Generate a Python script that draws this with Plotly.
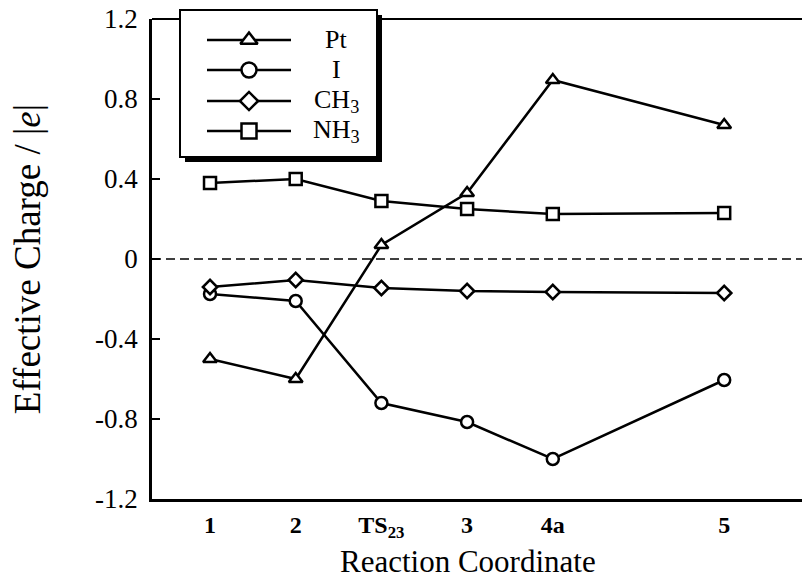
import plotly.graph_objects as go

# ---- data ----
categories = ["<b>1</b>", "<b>2</b>", "<b>TS<sub>23</sub></b>", "<b>3</b>", "<b>4a</b>", "<b>5</b>"]
coord = [1, 2, 3, 4, 5, 7]
pt = [-0.50, -0.60, 0.07, 0.33, 0.895, 0.67]
iod = [-0.175, -0.21, -0.72, -0.815, -1.00, -0.605]
ch3 = [-0.14, -0.105, -0.145, -0.16, -0.165, -0.17]
nh3 = [0.38, 0.40, 0.29, 0.25, 0.225, 0.23]
ytick_vals = [-1.2, -0.8, -0.4, 0, 0.4, 0.8, 1.2]
ytick_text = ["-1.2", "-0.8", "-0.4", "0", "0.4", "0.8", "1.2"]
series_names = ["Pt", "I", "CH<sub>3</sub>", "NH<sub>3</sub>"]
series_values = [pt, iod, ch3, nh3]
symbols = ["triangle-up", "circle", "diamond", "square"]

FONT = "Liberation Serif, Times New Roman, DejaVu Serif, serif"
W, H = 802, 580
L, R, T, B = 152, 0, 19, 81
PW, PH = W - L - R, H - T - B


def fx(px):
    return (px - L) / PW


def fy(py):
    return (H - B - py) / PH


fig = go.Figure()
for name, vals, sym in zip(series_names, series_values, symbols):
    fig.add_trace(go.Scatter(
        x=coord, y=vals, mode="lines+markers", name=name, showlegend=False,
        line=dict(color="black", width=2.5),
        marker=dict(symbol=sym, size=12 if sym != "diamond" else 11, color="white",
                    line=dict(color="black", width=2.5)),
        cliponaxis=False,
    ))

# ---- hand-drawn legend ----
shapes = []
shapes.append(dict(type="line", xref="paper", yref="paper", x0=0, x1=1, y0=1, y1=1,
                   line=dict(color="black", width=2), layer="below"))
shapes.append(dict(type="line", xref="paper", yref="y", x0=0, x1=1, y0=0, y1=0,
                   line=dict(color="black", width=1.5, dash="9px,5px"), layer="below"))
shapes.append(dict(type="rect", xref="paper", yref="paper", x0=fx(185), x1=fx(382),
                   y0=fy(162), y1=fy(15), fillcolor="black", line=dict(width=0), layer="below"))
shapes.append(dict(type="rect", xref="paper", yref="paper", x0=fx(180), x1=fx(377),
                   y0=fy(157), y1=fy(10), fillcolor="white",
                   line=dict(color="black", width=2), layer="below"))
rows = [40, 70, 101, 131]
annotations = []
for name, sym, ry in zip(series_names, symbols, rows):
    shapes.append(dict(type="line", xref="paper", yref="paper", x0=fx(207), x1=fx(291),
                       y0=fy(ry), y1=fy(ry), line=dict(color="black", width=2.5), layer="below"))
    fig.add_trace(go.Scatter(
        x=[fx(249)], y=[fy(ry)], xaxis="x2", yaxis="y2", mode="markers", showlegend=False,
        hoverinfo="skip",
        marker=dict(symbol=sym, size=15 if sym != "diamond" else 14, color="white",
                    line=dict(color="black", width=2.5)),
    ))
    annotations.append(dict(xref="paper", yref="paper", x=fx(336), y=fy(ry), text=name,
                            showarrow=False, xanchor="center", yanchor="middle",
                            font=dict(family=FONT, size=26, color="black")))

# x-axis title placed as an annotation (slightly left of the plot centre, as in the source)
annotations.append(dict(xref="paper", yref="paper", x=fx(468), y=fy(580), text="Reaction Coordinate",
                        showarrow=False, xanchor="center", yanchor="bottom",
                        borderpad=0, font=dict(family=FONT, size=31, color="black")))

fig.update_layout(
    width=W, height=H,
    margin=dict(l=L, r=R, t=T, b=B, pad=0),
    paper_bgcolor="white", plot_bgcolor="white",
    font=dict(family=FONT, color="black"),
    showlegend=False,
    shapes=shapes,
    annotations=annotations,
    xaxis=dict(
        range=[0.323, 7.908], tickmode="array", tickvals=coord, ticktext=categories,
        showgrid=False, zeroline=False, showline=True, linecolor="black", linewidth=3,
        ticks="", ticklabelstandoff=2, automargin=False,
        tickfont=dict(family=FONT, size=24, color="black"),
    ),
    yaxis=dict(
        range=[-1.2, 1.2], tickmode="array", tickvals=ytick_vals, ticktext=ytick_text,
        showgrid=False, zeroline=False, showline=True, linecolor="black", linewidth=2.5,
        ticks="inside", ticklen=8, tickwidth=2, tickcolor="black",
        ticklabelstandoff=6, automargin=False,
        tickfont=dict(family=FONT, size=27, color="black"),
        title=dict(text="Effective Charge / |<i>e</i>|",
                   font=dict(family=FONT, size=37, color="black"), standoff=44),
    ),
    xaxis2=dict(overlaying="x", range=[0, 1], visible=False, fixedrange=True),
    yaxis2=dict(overlaying="y", range=[0, 1], visible=False, fixedrange=True),
)

fig.write_html("out.html", config={"displayModeBar": False},
               post_script="document.body.style.margin='0px';")
